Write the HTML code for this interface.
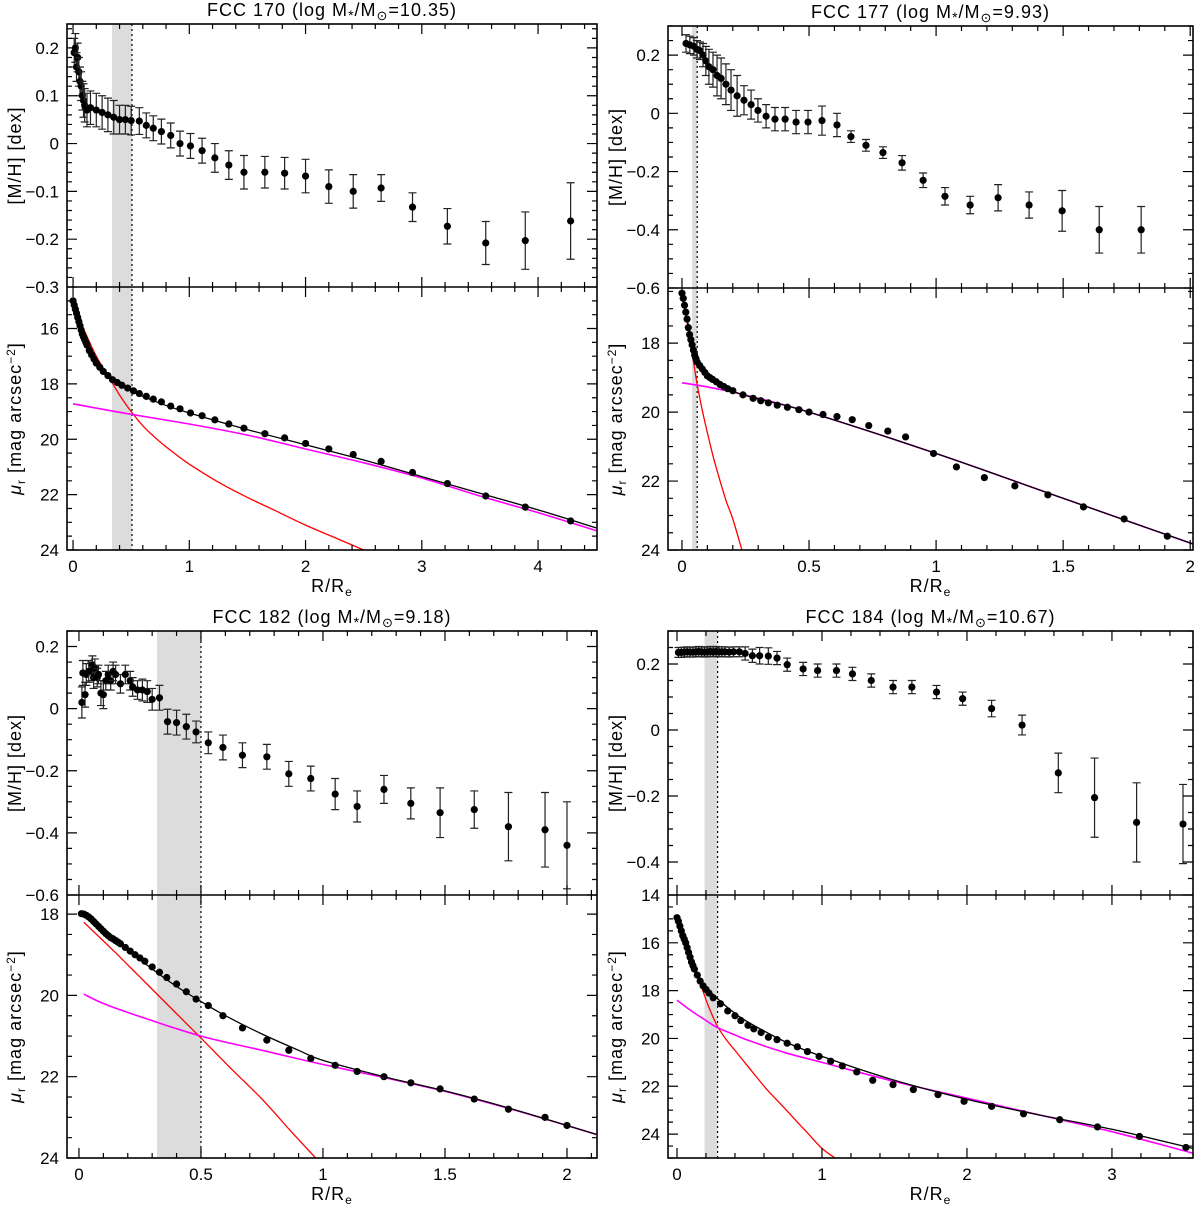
<!DOCTYPE html>
<html><head><meta charset="utf-8">
<style>
html,body{margin:0;padding:0;background:#fff;}
svg{display:block;}
.tk{font-family:"Liberation Sans",sans-serif;font-size:17px;fill:#000;}
.tt{font-family:"Liberation Sans",sans-serif;font-size:18px;letter-spacing:1px;fill:#000;}
</style></head>
<body>
<svg id="fig" width="1200" height="1210" viewBox="0 0 1200 1210" xmlns="http://www.w3.org/2000/svg"></svg>
<script>
// ===== FCC 170 =====
const a_mh_r=[0.01,0.02,0.03,0.04,0.05,0.06,0.07,0.08,0.09,0.10,0.12,0.15,0.2,0.25,0.3,0.35,0.4,0.45,0.5,0.57,0.63,0.69,0.76,0.84,0.92,1.01,1.11,1.22,1.34,1.47,1.65,1.82,2.0,2.2,2.41,2.65,2.92,3.22,3.55,3.89,4.28];
const a_mh_v=[0.19,0.20,0.16,0.18,0.15,0.13,0.12,0.10,0.09,0.08,0.07,0.075,0.07,0.065,0.06,0.055,0.05,0.05,0.048,0.047,0.038,0.032,0.025,0.017,0.0,-0.005,-0.015,-0.03,-0.045,-0.06,-0.06,-0.062,-0.068,-0.09,-0.10,-0.093,-0.133,-0.173,-0.208,-0.203,-0.162];
const a_mh_e=[0.03,0.03,0.03,0.03,0.03,0.03,0.03,0.03,0.035,0.035,0.035,0.035,0.035,0.035,0.035,0.035,0.03,0.03,0.03,0.028,0.026,0.026,0.026,0.026,0.026,0.026,0.026,0.03,0.03,0.035,0.033,0.033,0.035,0.035,0.035,0.028,0.03,0.037,0.045,0.06,0.08];
const a_mu_r=[0,0.01,0.02,0.03,0.04,0.05,0.06,0.07,0.08,0.09,0.1,0.11,0.12,0.14,0.16,0.18,0.2,0.23,0.26,0.3,0.34,0.38,0.42,0.47,0.52,0.57,0.63,0.69,0.76,0.84,0.92,1.01,1.11,1.22,1.34,1.47,1.65,1.82,2.0,2.2,2.41,2.65,2.92,3.22,3.55,3.89,4.28];
const a_mu_v=[15.0,15.15,15.3,15.45,15.6,15.75,15.9,16.05,16.2,16.3,16.4,16.5,16.6,16.8,16.95,17.1,17.25,17.4,17.55,17.7,17.85,17.95,18.05,18.15,18.25,18.35,18.45,18.55,18.65,18.8,18.9,19.05,19.15,19.3,19.45,19.6,19.8,19.95,20.15,20.35,20.55,20.8,21.2,21.6,22.05,22.45,22.95];
const a_tot_r=[0,0.05,0.1,0.2,0.3,0.5,0.75,1,1.5,2,2.5,3,3.5,4,4.5];
const a_tot_v=[14.9,15.6,16.2,17.1,17.65,18.25,18.7,19.05,19.65,20.2,20.75,21.35,21.95,22.55,23.2];
const a_blg_r=[0,0.05,0.1,0.2,0.3,0.4,0.5,0.62,0.75,0.87,1,1.25,1.5,1.75,2,2.25,2.5];
const a_blg_v=[14.9,15.6,16.1,17.0,17.7,18.4,19.0,19.6,20.1,20.5,20.9,21.55,22.1,22.6,23.1,23.55,24.0];
const a_dsk_r=[0,0.5,1,1.5,2,2.5,3,3.5,4,4.5];
const a_dsk_v=[18.72,19.1,19.45,19.85,20.35,20.85,21.4,22.05,22.65,23.3];

// ===== FCC 177 =====
const b_mh_r=[0.016,0.031,0.047,0.059,0.071,0.083,0.094,0.106,0.122,0.138,0.154,0.173,0.193,0.217,0.244,0.272,0.299,0.331,0.366,0.406,0.449,0.496,0.551,0.610,0.665,0.724,0.791,0.866,0.949,1.035,1.134,1.244,1.366,1.496,1.642,1.807];
const b_mh_v=[0.24,0.235,0.23,0.22,0.215,0.20,0.18,0.16,0.15,0.13,0.12,0.10,0.08,0.06,0.045,0.03,0.01,-0.01,-0.02,-0.02,-0.03,-0.03,-0.025,-0.04,-0.08,-0.11,-0.135,-0.17,-0.23,-0.285,-0.315,-0.29,-0.315,-0.335,-0.40,-0.40];
const b_mh_e=[0.03,0.03,0.03,0.03,0.03,0.04,0.05,0.06,0.06,0.07,0.07,0.07,0.07,0.07,0.05,0.05,0.04,0.04,0.04,0.04,0.04,0.04,0.05,0.04,0.02,0.02,0.02,0.025,0.025,0.03,0.03,0.045,0.045,0.07,0.08,0.08];
const b_mu_r=[0,0.005,0.01,0.015,0.02,0.025,0.03,0.035,0.04,0.045,0.05,0.055,0.06,0.07,0.08,0.09,0.1,0.11,0.12,0.135,0.15,0.165,0.18,0.2,0.24,0.28,0.31,0.34,0.375,0.415,0.46,0.5,0.555,0.61,0.67,0.735,0.81,0.88,0.99,1.08,1.19,1.31,1.44,1.58,1.74,1.91];
const b_mu_v=[16.55,16.7,16.9,17.1,17.3,17.55,17.75,17.9,18.05,18.2,18.35,18.45,18.55,18.65,18.75,18.85,18.95,19.0,19.05,19.12,19.2,19.26,19.32,19.38,19.5,19.6,19.67,19.73,19.8,19.86,19.93,20.0,20.07,20.13,20.22,20.39,20.55,20.72,21.2,21.59,21.9,22.14,22.4,22.75,23.1,23.6];
const b_tot_r=[0,0.02,0.04,0.06,0.08,0.1,0.15,0.2,0.3,0.5,1,1.5,2.02];
const b_tot_v=[16.6,17.3,18.0,18.5,18.75,18.95,19.2,19.4,19.62,20.0,21.2,22.5,23.85];
const b_blg_r=[0,0.02,0.04,0.06,0.08,0.1,0.125,0.15,0.175,0.2,0.236];
const b_blg_v=[16.6,17.4,18.3,19.2,19.95,20.6,21.35,22.0,22.6,23.1,24.0];
const b_dsk_r=[0,0.1,0.2,0.3,0.5,1,1.5,2.02];
const b_dsk_v=[19.15,19.27,19.42,19.6,20.0,21.2,22.5,23.85];

// ===== FCC 182 =====
const c_mh_r=[0.012,0.016,0.025,0.03,0.04,0.05,0.055,0.06,0.065,0.075,0.08,0.09,0.1,0.11,0.12,0.13,0.14,0.15,0.17,0.19,0.21,0.22,0.24,0.26,0.28,0.3,0.33,0.363,0.40,0.44,0.48,0.53,0.59,0.67,0.77,0.86,0.95,1.05,1.14,1.25,1.36,1.48,1.62,1.76,1.91,2.0];
const c_mh_v=[0.02,0.115,0.045,0.11,0.12,0.12,0.14,0.10,0.13,0.10,0.11,0.05,0.045,0.09,0.11,0.09,0.12,0.11,0.08,0.11,0.09,0.07,0.06,0.06,0.055,0.03,0.035,-0.042,-0.045,-0.058,-0.075,-0.11,-0.125,-0.15,-0.155,-0.21,-0.225,-0.275,-0.315,-0.26,-0.305,-0.335,-0.325,-0.38,-0.39,-0.44];
const c_mh_e=[0.05,0.04,0.04,0.035,0.035,0.03,0.03,0.035,0.03,0.03,0.03,0.04,0.045,0.03,0.03,0.03,0.03,0.03,0.03,0.03,0.03,0.03,0.03,0.035,0.035,0.035,0.04,0.04,0.04,0.04,0.035,0.035,0.04,0.04,0.04,0.04,0.04,0.05,0.05,0.045,0.05,0.08,0.06,0.11,0.12,0.14];
const c_mu_r=[0.01,0.02,0.03,0.04,0.05,0.06,0.07,0.08,0.09,0.1,0.11,0.12,0.13,0.14,0.15,0.16,0.17,0.19,0.21,0.23,0.25,0.27,0.3,0.33,0.36,0.4,0.44,0.48,0.53,0.59,0.67,0.77,0.86,0.95,1.05,1.14,1.25,1.36,1.48,1.62,1.76,1.91,2.0];
const c_mu_v=[17.99,18.0,18.03,18.07,18.12,18.18,18.24,18.3,18.36,18.42,18.48,18.53,18.58,18.61,18.65,18.69,18.73,18.82,18.91,19.0,19.08,19.16,19.3,19.43,19.56,19.72,19.91,20.09,20.25,20.5,20.8,21.1,21.35,21.55,21.72,21.87,22.0,22.15,22.3,22.55,22.8,23.0,23.2];
const c_tot_r=[0.02,0.1,0.2,0.3,0.4,0.5,0.6,0.75,0.9,1,1.25,1.5,1.75,2,2.12];
const c_tot_v=[18.0,18.42,18.88,19.35,19.78,20.15,20.5,20.95,21.35,21.6,22.0,22.35,22.75,23.2,23.42];
const c_blg_r=[0.02,0.15,0.25,0.35,0.5,0.62,0.75,0.87,0.97];
const c_blg_v=[18.2,18.95,19.55,20.15,21.05,21.78,22.55,23.35,24.0];
const c_dsk_r=[0.02,0.1,0.2,0.3,0.4,0.5,0.6,0.75,1,1.25,1.5,1.75,2,2.12];
const c_dsk_v=[19.97,20.2,20.42,20.62,20.82,21.0,21.15,21.35,21.7,22.02,22.36,22.76,23.2,23.42];

// ===== FCC 184 =====
const d_mh_r=[0.01,0.03,0.05,0.07,0.09,0.11,0.13,0.15,0.17,0.19,0.21,0.23,0.25,0.27,0.29,0.31,0.33,0.36,0.39,0.43,0.47,0.52,0.57,0.63,0.69,0.76,0.87,0.97,1.10,1.21,1.34,1.49,1.62,1.79,1.97,2.17,2.38,2.63,2.88,3.17,3.49];
const d_mh_v=[0.235,0.235,0.236,0.237,0.236,0.236,0.237,0.238,0.237,0.236,0.237,0.238,0.237,0.238,0.237,0.237,0.237,0.236,0.237,0.237,0.232,0.225,0.225,0.224,0.218,0.198,0.185,0.18,0.18,0.17,0.15,0.13,0.13,0.115,0.095,0.065,0.015,-0.13,-0.205,-0.28,-0.285];
const d_mh_e=[0.015,0.015,0.015,0.015,0.015,0.015,0.015,0.015,0.015,0.015,0.015,0.015,0.015,0.015,0.015,0.015,0.015,0.015,0.015,0.015,0.02,0.02,0.025,0.025,0.02,0.02,0.02,0.02,0.02,0.02,0.02,0.02,0.02,0.02,0.02,0.025,0.03,0.06,0.12,0.12,0.12];
const d_mu_r=[0,0.01,0.02,0.03,0.04,0.05,0.06,0.07,0.08,0.09,0.1,0.11,0.12,0.14,0.16,0.18,0.2,0.22,0.25,0.3,0.35,0.4,0.44,0.49,0.53,0.58,0.63,0.69,0.76,0.83,0.9,0.98,1.06,1.14,1.24,1.35,1.49,1.63,1.8,1.98,2.17,2.39,2.64,2.9,3.19,3.51];
const d_mu_v=[14.95,15.1,15.3,15.5,15.7,15.85,16.0,16.2,16.4,16.6,16.8,16.95,17.1,17.35,17.6,17.8,17.95,18.1,18.3,18.55,18.85,19.05,19.25,19.45,19.6,19.75,19.95,20.05,20.2,20.35,20.55,20.75,20.95,21.15,21.4,21.75,21.93,22.14,22.35,22.63,22.84,23.15,23.4,23.7,24.1,24.56];
const d_tot_r=[0,0.05,0.1,0.15,0.2,0.3,0.4,0.5,0.75,1,1.5,2,2.5,3,3.56];
const d_tot_v=[15.0,15.9,16.8,17.4,17.85,18.45,18.95,19.35,20.15,20.75,21.75,22.55,23.2,23.8,24.6];
const d_blg_r=[0,0.04,0.08,0.12,0.16,0.22,0.28,0.34,0.4,0.48,0.56,0.63,0.7,0.77,0.83,0.9,1.0,1.09];
const d_blg_v=[15.0,15.75,16.4,17.1,17.7,18.7,19.5,20.05,20.5,21.1,21.7,22.2,22.65,23.1,23.5,23.95,24.6,25.0];
const d_dsk_r=[0,0.1,0.2,0.28,0.4,0.5,0.75,1,1.5,2,2.5,3,3.56];
const d_dsk_v=[18.4,18.85,19.25,19.55,19.85,20.1,20.6,21.0,21.8,22.5,23.2,23.9,24.8];

const NS="http://www.w3.org/2000/svg";
const svg=document.getElementById('fig');
function mk(tag,attrs,parent){const e=document.createElementNS(NS,tag);for(const k in attrs)e.setAttribute(k,attrs[k]);(parent||svg).appendChild(e);return e;}
function fmt(v,d){let s=Math.abs(v)<1e-9?"0":v.toFixed(d).replace(/\.?0+$/,'');if(v<-1e-9)s="\u2212"+s.replace('-','');return s;}
function smooth(pts){
  if(pts.length<3){return pts.map((p,i)=>(i?'L':'M')+p[0].toFixed(1)+','+p[1].toFixed(1)).join('');}
  let d='M'+pts[0][0].toFixed(1)+','+pts[0][1].toFixed(1);
  for(let i=0;i<pts.length-1;i++){
    const p0=pts[i-1]||pts[i],p1=pts[i],p2=pts[i+1],p3=pts[i+2]||p2;
    const c1=[p1[0]+(p2[0]-p0[0])/6,p1[1]+(p2[1]-p0[1])/6];
    const c2=[p2[0]-(p3[0]-p1[0])/6,p2[1]-(p3[1]-p1[1])/6];
    d+=`C${c1[0].toFixed(1)},${c1[1].toFixed(1)} ${c2[0].toFixed(1)},${c2[1].toFixed(1)} ${p2[0].toFixed(1)},${p2[1].toFixed(1)}`;
  }
  return d;
}

function panel(P){
  const g=mk('g',{});
  
  
  const X=v=>P.x0+(v-P.xd[0])/(P.xd[1]-P.xd[0])*(P.x1-P.x0);
  const YU=v=>P.mid-(v-P.up[0])/(P.up[1]-P.up[0])*(P.mid-P.top);
  const YL=v=>P.mid+(v-P.lo[0])/(P.lo[1]-P.lo[0])*(P.bot-P.mid);
  const id=P.name;
  const cp=mk('clipPath',{id:id+'-clip'},g);
  mk('rect',{x:P.x0,y:P.top,width:P.x1-P.x0,height:P.bot-P.top},cp);
  const sh=mk('rect',{x:X(P.shade[0]),y:P.top,width:X(P.shade[1])-X(P.shade[0]),height:P.bot-P.top,fill:'#dcdcdc'},g);
  
  
  const dl=mk('line',{x1:X(P.shade[1]),x2:X(P.shade[1]),y1:P.top,y2:P.bot,stroke:'#000','stroke-width':1.2,'stroke-dasharray':'2,3'},g);
  
  
  const t=mk('text',{x:(P.x0+P.x1)/2,y:P.top-8,'text-anchor':'middle',class:'tt'},g);
  t.innerHTML=P.title+' (log M<tspan dy="4" font-size="14">*</tspan><tspan dy="-4">/M</tspan><tspan dy="4" font-size="13">\u2299</tspan><tspan dy="-4">='+P.mass+')</tspan>';
  
  
  const cg=mk('g',{'clip-path':'url(#'+id+'-clip)'},g);
  function curve(rs,vs,col,w,nm){
    const pts=rs.map((r,i)=>[X(r),YL(vs[i])]);
    const p=mk('path',{d:smooth(pts),fill:'none',stroke:col,'stroke-width':w},cg);
    
    
  }
  curve(P.blg_r,P.blg_v,'#ff0000',1.3,'bulge-model-line');
  curve(P.dsk_r,P.dsk_v,'#ff00ff',1.6,'disk-model-line');
  curve(P.tot_r,P.tot_v,'#000000',1.3,'total-model-line');
  P.mu_r.forEach((r,i)=>{
    const c=mk('circle',{cx:X(r),cy:YL(P.mu_v[i]),r:3.6,fill:'#000'},cg);
    
    
  });
  P.mh_r.forEach((r,i)=>{
    const x=X(r),y=YU(P.mh_v[i]),y1=YU(P.mh_v[i]+P.mh_e[i]),y2=YU(P.mh_v[i]-P.mh_e[i]);
    const e=mk('path',{d:`M${x},${y1}V${y2}M${x-4},${y1}H${x+4}M${x-4},${y2}H${x+4}`,stroke:'#222','stroke-width':1.2,fill:'none'},cg);
    
    
    const c=mk('circle',{cx:x,cy:y,r:3.6,fill:'#000'},cg);
    
    
  });
  const fr=mk('rect',{x:P.x0,y:P.top,width:P.x1-P.x0,height:P.bot-P.top,fill:'none',stroke:'#000','stroke-width':1.6},g);
  
  
  const ml=mk('line',{x1:P.x0,x2:P.x1,y1:P.mid,y2:P.mid,stroke:'#000','stroke-width':1.6},g);
  
  
  let td='';
  const eps=1e-6;
  function xticks(){
    for(let v=Math.ceil(P.xd[0]/P.xmin-eps)*P.xmin;v<=P.xd[1]+eps;v+=P.xmin){
      const maj=Math.abs(v/P.xmaj-Math.round(v/P.xmaj))<1e-4;const L=maj?10:5;const x=X(v);
      [P.top,P.mid].forEach(y=>{td+=`M${x},${y}v${L}`;});
      [P.mid,P.bot].forEach(y=>{td+=`M${x},${y}v${-L}`;});
      if(maj){const tx=mk('text',{x:x,y:P.bot+22,'text-anchor':'middle',class:'tk'},g);tx.textContent=fmt(v,1);
        
        }
    }
  }
  function yticks(range,mj,mn,Y,lo){
    const a=Math.min(range[0],range[1]),b=Math.max(range[0],range[1]);
    for(let v=Math.ceil(a/mn-eps)*mn;v<=b+eps;v+=mn){
      const maj=Math.abs(v/mj-Math.round(v/mj))<1e-4;const L=maj?10:5;const y=Y(v);
      td+=`M${P.x0},${y}h${L}M${P.x1},${y}h${-L}`;
      if(maj){
        if(lo && Math.abs(y-P.mid)<2 && !P.showTopLo) continue;
        const tx=mk('text',{x:P.x0-8,y:y+6,'text-anchor':'end',class:'tk'},g);tx.textContent=fmt(v,1);
        
        }
    }
  }
  xticks();
  yticks(P.up,P.upmaj,P.upmin,YU,false);
  yticks(P.lo,2,0.5,YL,true);
  mk('path',{d:td,stroke:'#000','stroke-width':1.2,fill:'none'},g);
  const cyU=(P.top+P.mid)/2,cyL=(P.mid+P.bot)/2,ax=P.x0-46;
  const ya=mk('text',{x:ax,y:cyU,'text-anchor':'middle',class:'tt',transform:`rotate(-90 ${ax} ${cyU})`},g);
  ya.textContent='[M/H] [dex]';
  
  
  const yb=mk('text',{x:ax,y:cyL,'text-anchor':'middle',class:'tt',transform:`rotate(-90 ${ax} ${cyL})`},g);
  yb.innerHTML='<tspan font-style="italic">\u03bc</tspan><tspan dy="4" font-size="12">r</tspan><tspan dy="-4"> [mag arcsec</tspan><tspan dy="-6" font-size="12">\u22122</tspan><tspan dy="6">]</tspan>';
  
  
  const xa=mk('text',{x:(P.x0+P.x1)/2,y:P.bot+42,'text-anchor':'middle',class:'tt'},g);
  xa.innerHTML='R/R<tspan dy="4" font-size="12">e</tspan>';
  
  
}

panel({name:'fcc170-panel',title:'FCC 170',mass:'10.35',x0:67,x1:597,top:24,mid:287,bot:550,xd:[-0.052,4.507],up:[-0.3,0.25],lo:[14.5,24],
  shade:[0.335,0.507],xmaj:1,xmin:0.2,upmaj:0.1,upmin:0.02,
  mh_r:a_mh_r,mh_v:a_mh_v,mh_e:a_mh_e,mu_r:a_mu_r,mu_v:a_mu_v,tot_r:a_tot_r,tot_v:a_tot_v,blg_r:a_blg_r,blg_v:a_blg_v,dsk_r:a_dsk_r,dsk_v:a_dsk_v});
panel({name:'fcc177-panel',title:'FCC 177',mass:'9.93',x0:668,x1:1193,top:26,mid:288,bot:550,xd:[-0.055,2.011],up:[-0.6,0.3],lo:[16.4,24],
  shade:[0.04,0.06],xmaj:0.5,xmin:0.1,upmaj:0.2,upmin:0.05,
  mh_r:b_mh_r,mh_v:b_mh_v,mh_e:b_mh_e,mu_r:b_mu_r,mu_v:b_mu_v,tot_r:b_tot_r,tot_v:b_tot_v,blg_r:b_blg_r,blg_v:b_blg_v,dsk_r:b_dsk_r,dsk_v:b_dsk_v});
panel({name:'fcc182-panel',title:'FCC 182',mass:'9.18',x0:67,x1:597,top:631,mid:895,bot:1158,xd:[-0.049,2.123],up:[-0.6,0.25],lo:[17.53,24],
  shade:[0.32,0.5],xmaj:0.5,xmin:0.1,upmaj:0.2,upmin:0.05,
  mh_r:c_mh_r,mh_v:c_mh_v,mh_e:c_mh_e,mu_r:c_mu_r,mu_v:c_mu_v,tot_r:c_tot_r,tot_v:c_tot_v,blg_r:c_blg_r,blg_v:c_blg_v,dsk_r:c_dsk_r,dsk_v:c_dsk_v});
panel({name:'fcc184-panel',title:'FCC 184',mass:'10.67',x0:668,x1:1193,top:631,mid:895,bot:1158,xd:[-0.062,3.559],up:[-0.5,0.3],lo:[14,25],showTopLo:true,
  shade:[0.19,0.28],xmaj:1,xmin:0.2,upmaj:0.2,upmin:0.05,
  mh_r:d_mh_r,mh_v:d_mh_v,mh_e:d_mh_e,mu_r:d_mu_r,mu_v:d_mu_v,tot_r:d_tot_r,tot_v:d_tot_v,blg_r:d_blg_r,blg_v:d_blg_v,dsk_r:d_dsk_r,dsk_v:d_dsk_v});
</script>
</body></html>
